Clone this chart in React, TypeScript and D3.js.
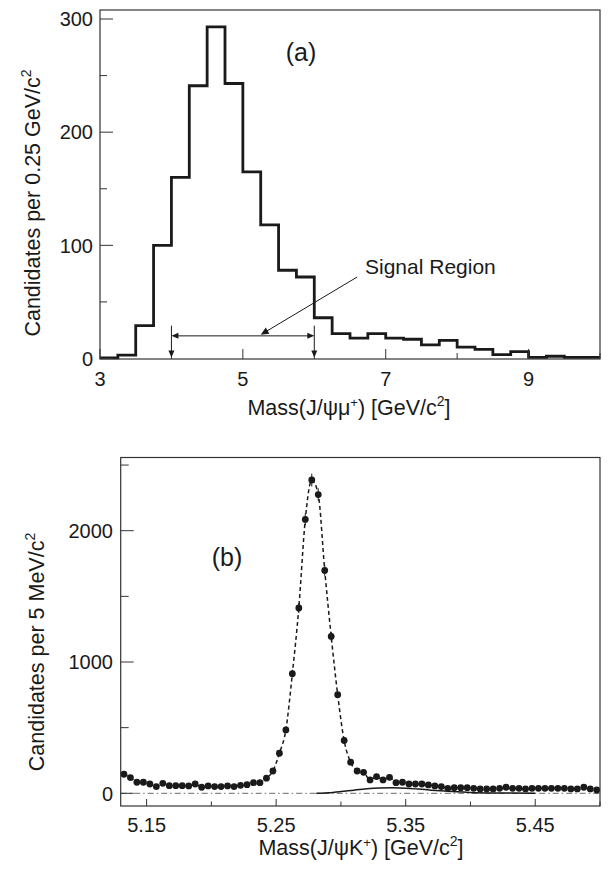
import React from "react";
import * as d3 from "d3";

// ---------- Panel (a) data ----------
const histStart = 3.0;
const histBinWidth = 0.25;
const histCounts = [
  0.5, 3, 29, 100, 160, 241, 293, 243, 165, 118, 78, 72, 36, 22,
  18, 22, 18, 17, 12, 16, 10, 8, 3.5, 6, 1, 2, 1, 1,
];
const aXTicks = [3, 4, 5, 6, 7, 8, 9, 10];
const aXLabels = [3, 5, 7, 9];
const aYTicks = [0, 50, 100, 150, 200, 250, 300];
const aYLabels = [0, 100, 200, 300];
const signalLo = 4.0;
const signalHi = 6.0;
const signalLevel = 20;
const signalTop = 29;
const signalText = { x: 6.71, y: 75 };
const signalArrowFrom = { x: 6.6, y: 72 };
const signalArrowTo = { x: 5.25, y: 21 };

// ---------- Panel (b) data ----------
const bStart = 5.1325;
const bBinWidth = 0.005;
const bCounts = [
  145, 120, 84, 84, 71, 51, 76, 58, 58, 58,
  56, 71, 46, 56, 51, 51, 56, 51, 61, 66,
  81, 81, 115, 170, 305, 483, 911,
  1412, 2086, 2386, 2275, 1697, 1195,
  751, 402, 237, 170, 160, 102, 127, 102, 122, 81,
  84, 71, 71, 71, 64, 56, 51, 38, 43, 43,
  43, 38, 33, 33, 33, 38, 46, 38, 38, 33,
  38, 38, 38, 38, 38, 38, 33, 33, 46, 33, 25,
];
const bgMass = [5.281, 5.29, 5.3, 5.31, 5.32, 5.33, 5.34, 5.35, 5.36, 5.37, 5.38, 5.39, 5.4, 5.42, 5.45];
const bgValues = [0, 4, 13, 24, 34, 40, 42, 39, 32, 24, 17, 11, 7, 3, 1];
const bXTicks = [5.15, 5.2, 5.25, 5.3, 5.35, 5.4, 5.45, 5.5];
const bXLabels = [5.15, 5.25, 5.35, 5.45];
const bYTicks = [0, 500, 1000, 1500, 2000, 2500];
const bYLabels = [0, 1000, 2000];

const FONT = "'Liberation Sans', Arial, Helvetica, sans-serif";
const INK = "#1a1a1a";
const TICK_FS = 20;
const TITLE_FS = 21.5;

export default function App() {
  // Panel (a) geometry
  const A = { left: 100, right: 600, top: 10, bottom: 359 };
  const xA = d3.scaleLinear().domain([3, 10]).range([A.left, A.right]);
  const yA = d3.scaleLinear().domain([0, 300]).range([358.5, 19]);

  const histPts: [number, number][] = histCounts.map((c, i) => [histStart + i * histBinWidth, c]);
  histPts.push([histStart + histCounts.length * histBinWidth, histCounts[histCounts.length - 1]]);
  const histLine = d3
    .line<[number, number]>()
    .x((d) => xA(d[0]))
    .y((d) => yA(d[1]))
    .curve(d3.curveStepAfter);

  // Panel (b) geometry
  const B = { left: 120.7, right: 600, top: 457.5, bottom: 806 };
  const xB = d3.scaleLinear().domain([5.13, 5.5]).range([B.left, B.right]);
  const yB = d3.scaleLinear().domain([0, 2000]).range([793.3, 530.7]);

  const bPts = bCounts.map((c, i) => ({ m: bStart + i * bBinWidth, c }));
  const fitLine = d3
    .line<{ m: number; c: number }>()
    .x((d) => xB(d.m))
    .y((d) => yB(d.c))
    .curve(d3.curveMonotoneX);
  const bgLine = d3
    .line<number>()
    .x((d, i) => xB(bgMass[i]))
    .y((d) => yB(d))
    .curve(d3.curveMonotoneX);

  const arrowHead = (tipX: number, tipY: number, angle: number, len = 7, half = 3) => {
    const bx = tipX - len * Math.cos(angle);
    const by = tipY - len * Math.sin(angle);
    const px = -Math.sin(angle) * half;
    const py = Math.cos(angle) * half;
    return `M${tipX},${tipY}L${bx + px},${by + py}L${bx - px},${by - py}Z`;
  };

  const sx1 = xA(signalLo);
  const sx2 = xA(signalHi);
  const sy = yA(signalLevel);
  const aFrom = { x: xA(signalArrowFrom.x), y: yA(signalArrowFrom.y) };
  const aTo = { x: xA(signalArrowTo.x), y: yA(signalArrowTo.y) };
  const aAng = Math.atan2(aTo.y - aFrom.y, aTo.x - aFrom.x);

  return (
    <div style={{ position: "absolute", left: 0, top: 0 }}>
      <svg width={613} height={869} style={{ display: "block" }} fontFamily={FONT}>
        <rect x={0} y={0} width={613} height={869} fill="#fff" />

        {/* ================= Panel (a) ================= */}
        <path d={histLine(histPts) || ""} fill="none" stroke={INK} strokeWidth={2.8} strokeLinejoin="miter" />
        <rect x={A.left} y={A.top} width={A.right - A.left} height={A.bottom - A.top} fill="none" stroke="#333" strokeWidth={1.2} />
        {aYTicks.map((t) => (
          <line key={"ay" + t} x1={A.left} x2={A.left + (aYLabels.includes(t) ? 13 : 7)} y1={yA(t)} y2={yA(t)} stroke="#333" strokeWidth={1} />
        ))}
        {aYLabels.map((t) => (
          <text key={"ayl" + t} x={93} y={yA(t)} dy="0.36em" textAnchor="end" fontSize={TICK_FS} fill={INK}>
            {t}
          </text>
        ))}
        {aXTicks.map((t) => (
          <line key={"ax" + t} x1={xA(t)} x2={xA(t)} y1={A.bottom} y2={A.bottom - (aXLabels.includes(t) ? 10 : 6)} stroke="#333" strokeWidth={1} />
        ))}
        {aXLabels.map((t) => (
          <text key={"axl" + t} x={xA(t)} y={386} textAnchor="middle" fontSize={TICK_FS} fill={INK}>
            {t}
          </text>
        ))}
        <text x={349} y={415} textAnchor="middle" fontSize={TITLE_FS} fill={INK}>
          Mass(J/ψμ<tspan dy={-8} fontSize={13}>+</tspan>
          <tspan dy={8}>) [GeV/c</tspan>
          <tspan dy={-9} fontSize={14}>2</tspan>
          <tspan dy={9}>]</tspan>
        </text>
        <text transform="translate(39.5,203) rotate(-90)" textAnchor="middle" fontSize={TITLE_FS} fill={INK}>
          Candidates per 0.25 GeV/c<tspan dy={-9} fontSize={14}>2</tspan>
        </text>
        <text x={301} y={61} textAnchor="middle" fontSize={25} fill={INK}>
          (a)
        </text>

        {/* Signal region */}
        <line x1={sx1 + 6} x2={sx2 - 6} y1={sy} y2={sy} stroke={INK} strokeWidth={1} />
        <path d={arrowHead(sx1, sy, Math.PI)} fill={INK} />
        <path d={arrowHead(sx2, sy, 0)} fill={INK} />
        {[sx1, sx2].map((x, i) => (
          <g key={"sv" + i}>
            <line x1={x} x2={x} y1={yA(signalTop)} y2={yA(0) - 6} stroke={INK} strokeWidth={1} />
            <path d={arrowHead(x, yA(0) - 1, Math.PI / 2, 7, 3)} fill={INK} />
          </g>
        ))}
        <line x1={aFrom.x} y1={aFrom.y} x2={aTo.x - 6 * Math.cos(aAng)} y2={aTo.y - 6 * Math.sin(aAng)} stroke={INK} strokeWidth={1} />
        <path d={arrowHead(aTo.x, aTo.y, aAng, 8, 3.5)} fill={INK} />
        <text x={xA(signalText.x)} y={yA(signalText.y)} fontSize={21} fill={INK}>
          Signal Region
        </text>

        {/* ================= Panel (b) ================= */}
        <line x1={B.left} x2={B.right} y1={yB(0)} y2={yB(0)} stroke="#888" strokeWidth={1.2} strokeDasharray="6,3,1.5,3" />
        <path d={bgLine(bgValues) || ""} fill="none" stroke={INK} strokeWidth={1.5} />
        <path d={fitLine(bPts) || ""} fill="none" stroke={INK} strokeWidth={1.5} strokeDasharray="4,3" />
        {bPts.map((p, i) => (
          <line key={"eb" + i} x1={xB(p.m)} x2={xB(p.m)} y1={yB(p.c + Math.sqrt(p.c))} y2={yB(p.c - Math.sqrt(p.c))} stroke={INK} strokeWidth={1} />
        ))}
        {bPts.map((p, i) => (
          <circle key={"pt" + i} cx={xB(p.m)} cy={yB(p.c)} r={3.4} fill={INK} />
        ))}
        <rect x={B.left} y={B.top} width={B.right - B.left} height={B.bottom - B.top} fill="none" stroke="#333" strokeWidth={1.2} />
        {bYTicks.map((t) => (
          <line key={"by" + t} x1={B.left} x2={B.left + (bYLabels.includes(t) ? 13 : 8)} y1={yB(t)} y2={yB(t)} stroke="#333" strokeWidth={1} />
        ))}
        {bYLabels.map((t) => (
          <text key={"byl" + t} x={113} y={yB(t)} dy="0.36em" textAnchor="end" fontSize={TICK_FS} fill={INK}>
            {t}
          </text>
        ))}
        {bXTicks.map((t) => (
          <line key={"bx" + t} x1={xB(t)} x2={xB(t)} y1={B.bottom} y2={B.bottom - (bXLabels.includes(t) ? 7 : 4.5)} stroke="#333" strokeWidth={1} />
        ))}
        {bXLabels.map((t) => (
          <text key={"bxl" + t} x={xB(t)} y={832} textAnchor="middle" fontSize={TICK_FS} fill={INK}>
            {t.toFixed(2)}
          </text>
        ))}
        <text x={361} y={855} textAnchor="middle" fontSize={TITLE_FS} fill={INK}>
          Mass(J/ψK<tspan dy={-8} fontSize={13}>+</tspan>
          <tspan dy={8}>) [GeV/c</tspan>
          <tspan dy={-9} fontSize={14}>2</tspan>
          <tspan dy={9}>]</tspan>
        </text>
        <text transform="translate(44,652) rotate(-90)" textAnchor="middle" fontSize={TITLE_FS} fill={INK}>
          Candidates per 5 MeV/c<tspan dy={-9} fontSize={14}>2</tspan>
        </text>
        <text x={227} y={566} textAnchor="middle" fontSize={25} fill={INK}>
          (b)
        </text>
      </svg>
    </div>
  );
}
